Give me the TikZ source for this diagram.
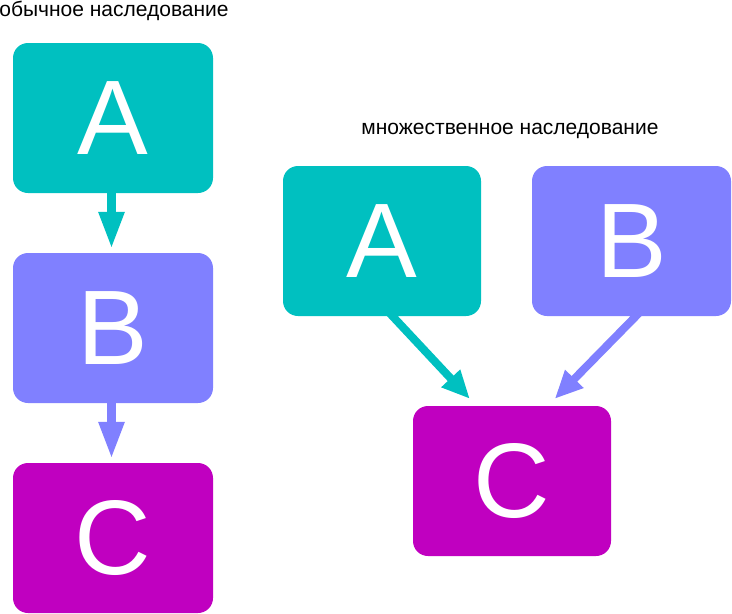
\documentclass[tikz,border=0pt]{standalone}
\usepackage{fontspec}
\setmainfont{Liberation Sans}
\usetikzlibrary{arrows.meta,calc,backgrounds}
\definecolor{cteal}{HTML}{00C0C0}
\definecolor{clav}{HTML}{8080FF}
\definecolor{cmag}{HTML}{C000C0}
\tikzset{
  cls/.style={rounded corners=15pt, inner sep=0pt, minimum height=150pt, text=white,
    font=\fontsize{106}{106}\selectfont},
  lbl/.style={inner sep=0pt, font=\fontsize{21}{24}\selectfont, text=black},
  inh/.style={line width=8.5pt, -{Triangle[width=24pt,length=37pt]}},
  inhd/.style={line width=8pt, -{Triangle[width=24pt,length=28pt]}},
}
\begin{document}
\begin{tikzpicture}[x=1pt,y=-1pt]
\useasboundingbox (0,0) rectangle (732,614);
% left column
\node[cls, fill=cteal, minimum width=200pt] (lA) at (113,118) {A};
\node[cls, fill=clav, minimum width=200pt] (lB) at (113,328) {B};
\node[cls, fill=cmag, minimum width=200pt] (lC) at (113,538) {C};
\node[lbl] (t1) at (114,11) {обычное наследование};
% right group
\node[cls, fill=cteal, minimum width=198pt] (rA) at (382,241) {A};
\node[cls, fill=clav, minimum width=199pt] (rB) at (631.5,241) {B};
\node[cls, fill=cmag, minimum width=198pt] (rC) at (512,481) {C};
\node[lbl] (t2) at (510,131) {множественное наследование};
% arrows
\coordinate (a1s) at ($(lA.south)+(-1.5,-2)$);
\coordinate (a1e) at ($(lB.north)+(-1.5,-4)$);
\coordinate (a2s) at ($(lB.south)+(-1.5,-2)$);
\coordinate (a2e) at ($(lC.north)+(-1.5,-4)$);
\coordinate (a3s) at ($(rA.south west)+(106,-4)$);
\coordinate (a3e) at ($(rC.north west)+(57,-7)$);
\coordinate (a4s) at ($(rB.south west)+(108,-4)$);
\coordinate (a4e) at ($(rC.north west)+(142,-7)$);
\begin{scope}[on background layer]
\draw[inh, draw=cteal, fill=cteal] (a1s) -- (a1e);
\draw[inh, draw=clav, fill=clav] (a2s) -- (a2e);
\draw[inhd, draw=cteal, fill=cteal] (a3s) -- (a3e);
\draw[inhd, draw=clav, fill=clav] (a4s) -- (a4e);
\end{scope}
\end{tikzpicture}
\end{document}
